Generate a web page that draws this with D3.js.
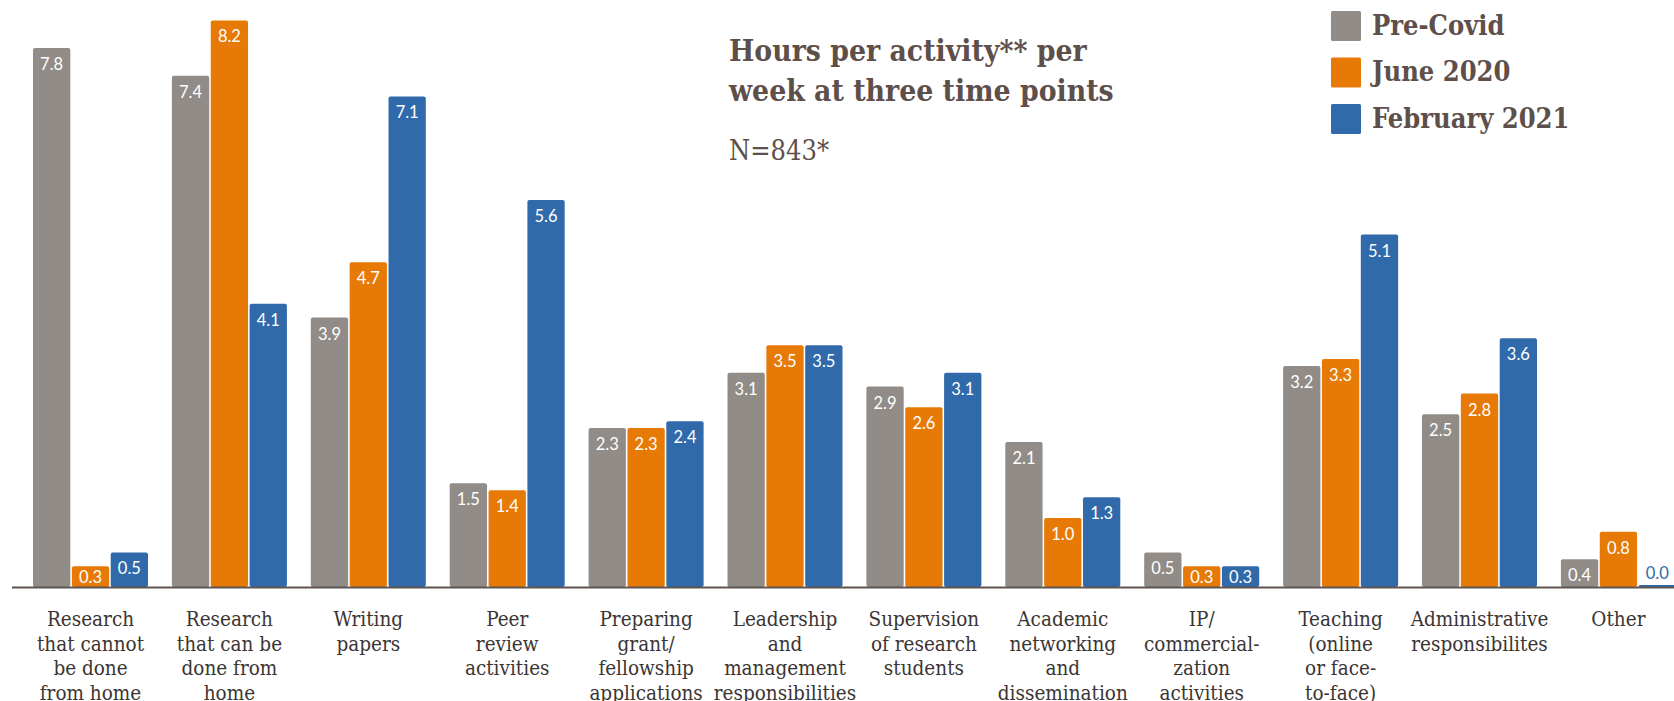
<!DOCTYPE html>
<html>
<head>
<meta charset="utf-8">
<script src="https://cdn.jsdelivr.net/npm/d3@7"></script>
<style>
  html, body { margin: 0; padding: 0; background: #fff; }
  svg { display: block; }
</style>
</head>
<body>
<svg id="chart" width="1674" height="701"></svg>
<script>
const categories = [
  "Research that cannot be done from home",
  "Research that can be done from home",
  "Writing papers",
  "Peer review activities",
  "Preparing grant/ fellowship applications",
  "Leadership and management responsibilities",
  "Supervision of research students",
  "Academic networking and dissemination",
  "IP/ commercialization activities",
  "Teaching (online or face-to-face)",
  "Administrative responsibilites",
  "Other"
];
const categoryLines = [
  ["Research", "that cannot", "be done", "from home"],
  ["Research", "that can be", "done from", "home"],
  ["Writing", "papers"],
  ["Peer", "review", "activities"],
  ["Preparing", "grant/", "fellowship", "applications"],
  ["Leadership", "and", "management", "responsibilities"],
  ["Supervision", "of research", "students"],
  ["Academic", "networking", "and", "dissemination"],
  ["IP/", "commercial-", "zation", "activities"],
  ["Teaching", "(online", "or face-", "to-face)"],
  ["Administrative", "responsibilites"],
  ["Other"]
];
const seriesNames = ["Pre-Covid", "June 2020", "February 2021"];
const preCovid = [7.8, 7.4, 3.9, 1.5, 2.3, 3.1, 2.9, 2.1, 0.5, 3.2, 2.5, 0.4];
const june2020 = [0.3, 8.2, 4.7, 1.4, 2.3, 3.5, 2.6, 1.0, 0.3, 3.3, 2.8, 0.8];
const feb2021  = [0.5, 4.1, 7.1, 5.6, 2.4, 3.5, 3.1, 1.3, 0.3, 5.1, 3.6, 0.0];
const seriesValues = [preCovid, june2020, feb2021];
const seriesColors = ["#918c87", "#e77a07", "#316aaa"];
const titleLines = ["Hours per activity** per", "week at three time points"];
const subtitle = "N=843*";

const svg = d3.select("#chart");
const baseY = 587;

const x0 = d3.scaleBand()
  .domain(categories)
  .range([21.05, 1687.85])
  .paddingInner(0.172)
  .paddingOuter(0.086);

const x1 = d3.scaleBand()
  .domain(seriesNames)
  .range([0, x0.bandwidth()])
  .paddingInner(0.04);

const y = d3.scaleLinear().domain([0, 8.5]).range([baseY, baseY - 8.5 * 69.1]);

const data = [];
categories.forEach((c, i) => {
  seriesNames.forEach((s, j) => {
    data.push({ cat: c, ser: s, v: seriesValues[j][i], color: seriesColors[j] });
  });
});

const fmt = d3.format(".1f");

const g = svg.append("g");
g.selectAll("rect.bar")
  .data(data)
  .enter().append("rect")
  .attr("class", "bar")
  .attr("x", d => x0(d.cat) + x1(d.ser))
  .attr("y", d => d.v > 0 ? y(d.v) : baseY - 2)
  .attr("width", x1.bandwidth())
  .attr("height", d => d.v > 0 ? baseY - y(d.v) : 2)
  .attr("rx", 2)
  .attr("fill", d => d.color);

g.selectAll("text.val")
  .data(data)
  .enter().append("text")
  .attr("class", "val")
  .attr("x", d => x0(d.cat) + x1(d.ser) + x1.bandwidth() / 2)
  .attr("y", d => {
    if (d.v <= 0) return baseY - 8;
    return Math.min(y(d.v) + 22, baseY - 4);
  })
  .attr("text-anchor", "middle")
  .attr("font-family", "Lato, 'Open Sans', sans-serif")
  .attr("font-size", 16.5)
  .attr("fill", d => d.v <= 0 ? d.color : "#ffffff")
  .text(d => fmt(d.v));

// baseline axis
const xAxis = d3.axisBottom(x0).tickSize(0).tickFormat("");
const axG = svg.append("g").attr("transform", `translate(0,${baseY})`).call(xAxis);
axG.select(".domain").remove();
svg.append("line")
  .attr("x1", 12).attr("x2", 1674)
  .attr("y1", baseY + 0.5).attr("y2", baseY + 0.5)
  .attr("stroke", "#5f5350").attr("stroke-width", 2);

// category labels
axG.selectAll(".tick").each(function(d, i) {
  const t = d3.select(this).append("text")
    .attr("text-anchor", "middle")
    .attr("font-family", "'DejaVu Serif', serif")
    .attr("font-stretch", "condensed")
    .attr("font-size", 20.5)
    .attr("fill", "#3b3533");
  categoryLines[i].forEach((line, k) => {
    t.append("tspan").attr("x", 0).attr("y", 39 + k * 24.5).text(line);
  });
});

// title
const title = svg.append("text")
  .attr("font-family", "'DejaVu Serif', serif")
  .attr("font-stretch", "condensed")
  .attr("font-weight", "bold")
  .attr("font-size", 29.8)
  .attr("fill", "#5e4f4a");
titleLines.forEach((l, k) => {
  title.append("tspan").attr("x", 729).attr("y", 61 + k * 40).text(l);
});
svg.append("text")
  .attr("x", 729).attr("y", 160)
  .attr("font-family", "'DejaVu Serif', serif")
  .attr("font-stretch", "condensed")
  .attr("font-weight", "300")
  .attr("font-size", 27)
  .attr("fill", "#5e4f4a")
  .text(subtitle);

// legend
const leg = svg.append("g").attr("transform", "translate(1331,11)");
seriesNames.forEach((s, j) => {
  const row = leg.append("g").attr("transform", `translate(0,${j * 46.5})`);
  row.append("rect").attr("width", 30).attr("height", 30).attr("rx", 1.5).attr("fill", seriesColors[j]);
  row.append("text")
    .attr("x", 41).attr("y", 23.5)
    .attr("font-family", "'DejaVu Serif', serif")
    .attr("font-stretch", "condensed")
    .attr("font-weight", "bold")
    .attr("font-size", 27)
    .attr("fill", "#5e4f4a")
    .text(s);
});
</script>
</body>
</html>
